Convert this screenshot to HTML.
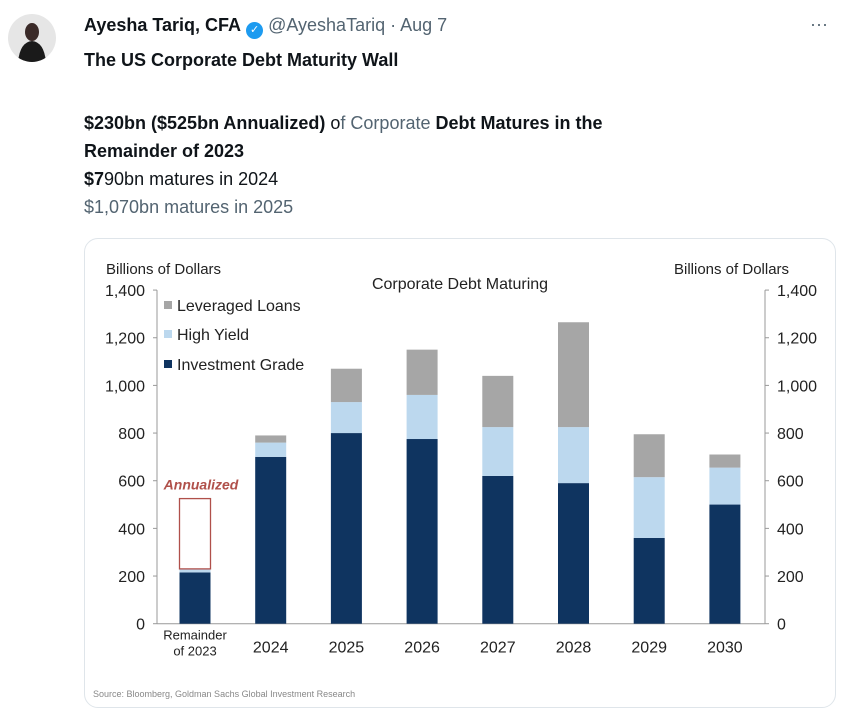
<!DOCTYPE html>
<html><head><meta charset="utf-8">
<style>
body{margin:0;background:#fff;width:848px;height:717px;overflow:hidden;font-family:"Liberation Sans",sans-serif;}
.avatar{position:absolute;left:8px;top:14px;width:48px;height:48px;border-radius:50%;background:#e6e6e6;overflow:hidden}
.t{position:absolute;left:84px;color:#0f1419;font-size:18px;white-space:nowrap}
b{font-weight:700}
.g{color:#536471}
.card{position:absolute;left:84px;top:238px;width:750px;height:468px;border:1px solid #dfe5ea;border-radius:14px;background:#fff}
</style></head><body>
<div class="avatar">
<svg width="48" height="48"><ellipse cx="24" cy="18" rx="7" ry="9" fill="#3a2a28"/><path d="M10 48 Q12 28 24 27 Q36 28 38 48Z" fill="#1a1a1a"/></svg></div>
<div class="t" style="top:15px"><b>Ayesha Tariq, CFA</b> <span style="display:inline-block;width:17px;height:17px;border-radius:50%;background:#1d9bf0;color:#fff;font-size:11px;text-align:center;line-height:17px;vertical-align:-2px">✓</span> <span class="g">@AyeshaTariq · Aug 7</span></div>
<div style="position:absolute;left:810px;top:14px;color:#536471;font-size:18px">···</div>
<div class="t" style="top:50px"><b>The US Corporate Debt Maturity Wall</b></div>
<div class="t" style="top:109px;line-height:28px"><b>$230bn ($525bn Annualized)</b> o<span class="g">f Corporate</span> <b>Debt Matures in the<br>Remainder of 2023</b><br><b>$7</b>90bn matures in 2024<br><span class="g">$1,070bn matures in 2025</span></div>
<div class="card"></div>
<svg id="chart" width="848" height="717" style="position:absolute;left:0;top:0"></svg>
<script>
const categories=["Remainder of 2023","2024","2025","2026","2027","2028","2029","2030"];
const investmentGrade=[215,700,800,775,620,590,360,500];
const highYield=[15,60,130,185,205,235,255,155];
const leveragedLoans=[0,30,140,190,215,440,180,55];
const annualized=525;
const yTicks=[0,200,400,600,800,1000,1200,1400];
const tickLabels=["0","200","400","600","800","1,000","1,200","1,400"];
const NS="http://www.w3.org/2000/svg";
const svg=document.getElementById('chart');
const y=v=>623.7-v*0.2383;
const x=i=>195+i*75.7;
const bw=31;
function mk(tag,attrs){const e=document.createElementNS(NS,tag);for(const k in attrs)e.setAttribute(k,attrs[k]);svg.appendChild(e);return e;}
function txt(s,attrs){const e=mk('text',attrs);e.textContent=s;return e;}
let a=mk('line',{x1:157,y1:y(1400),x2:157,y2:y(0),stroke:'#999'});


a=mk('line',{x1:765,y1:y(1400),x2:765,y2:y(0),stroke:'#999'});


a=mk('line',{x1:157,y1:y(0),x2:765,y2:y(0),stroke:'#999'});


yTicks.forEach((v,i)=>{
 mk('line',{x1:153,y1:y(v),x2:157,y2:y(v),stroke:'#999'});
 mk('line',{x1:765,y1:y(v),x2:769,y2:y(v),stroke:'#999'});
 let t=txt(tickLabels[i],{x:145,y:y(v)+6,'text-anchor':'end','font-size':16,fill:'#222'});
 
 
 t=txt(tickLabels[i],{x:777,y:y(v)+6,'font-size':16,fill:'#222'});
 
 
});
categories.forEach((c,i)=>{
 const cx=x(i);
 let b0=investmentGrade[i],b1=b0+highYield[i],b2=b1+leveragedLoans[i];
 let r=mk('rect',{x:cx-bw/2,y:y(b0),width:bw,height:y(0)-y(b0),fill:'#0f3460'});
 
 
 r=mk('rect',{x:cx-bw/2,y:y(b1),width:bw,height:y(b0)-y(b1),fill:'#bcd8ee'});
 
 
 r=mk('rect',{x:cx-bw/2,y:y(b2),width:bw,height:y(b1)-y(b2),fill:'#a6a6a6'});
 
 
 if(i===0){
  let t=txt('Remainder',{x:cx,y:y(0)+16,'text-anchor':'middle','font-size':13,fill:'#222'});
  
  
  t=txt('of 2023',{x:cx,y:y(0)+32,'text-anchor':'middle','font-size':13,fill:'#222'});
  
  
 } else {
  let t=txt(c,{x:cx,y:y(0)+29,'text-anchor':'middle','font-size':16,fill:'#222'});
  
  
 }
});
let an=mk('rect',{x:x(0)-bw/2,y:y(annualized),width:bw,height:y(investmentGrade[0]+highYield[0])-y(annualized),fill:'none',stroke:'#b0504a','stroke-width':1.3});


an=txt('Annualized',{x:x(0)+6,y:y(annualized)-9,'text-anchor':'middle','font-size':14,'font-style':'italic','font-weight':'bold',fill:'#b0504a'});


let t=txt('Billions of Dollars',{x:106,y:274,'font-size':15,fill:'#222'});


t=txt('Billions of Dollars',{x:674,y:274,'font-size':15,fill:'#222'});


t=txt('Corporate Debt Maturing',{x:460,y:289,'text-anchor':'middle','font-size':16,fill:'#222'});


[['Leveraged Loans','#a6a6a6',311],['High Yield','#bcd8ee',340],['Investment Grade','#0f3460',370]].forEach(l=>{
 let s=mk('rect',{x:164,y:l[2]-10,width:8,height:8,fill:l[1]});
 
 
 let e=txt(l[0],{x:177,y:l[2],'font-size':16,fill:'#222'});
 
 
});
t=txt('Source: Bloomberg, Goldman Sachs Global Investment Research',{x:93,y:697,'font-size':9,fill:'#888'});


</script>
</body></html>
